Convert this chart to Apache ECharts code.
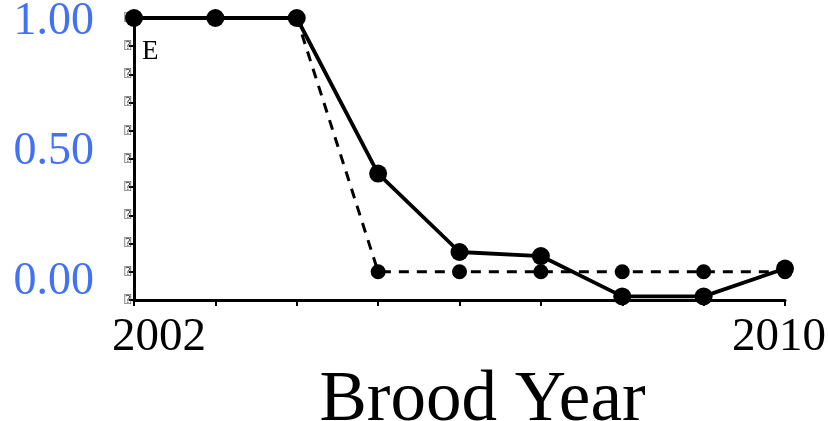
<!DOCTYPE html>
<html>
<head>
<meta charset="utf-8">
<script src="https://cdn.jsdelivr.net/npm/echarts@6/dist/echarts.min.js"></script>
<style>
  html, body { margin: 0; padding: 0; background: #fff; }
  #chart { width: 828px; height: 421px; }
</style>
</head>
<body>
<div id="chart"></div>
<script>
// Brood years on the x axis
const years = [2002, 2003, 2004, 2005, 2006, 2007, 2008, 2009, 2010];
// Observed proportion (solid line)
const observed = [1.0, 1.0, 1.0, 0.387, 0.078, 0.062, -0.097, -0.097, 0.013];
// Expected proportion (dashed line)
const expected = [1.0, 1.0, 1.0, 0.0, 0.0, 0.0, 0.0, 0.0, 0.0];
// Labelled values on the left and bottom
const yLabelValues = [0, 0.5, 1];
const xLabelValues = [2002, 2010];
const panelLetter = 'E';
const xTitle = 'Brood Year';

const serif = 'Liberation Serif';
const chart = echarts.init(document.getElementById('chart'), null, { renderer: 'canvas' });

const pairs = arr => years.map((y, i) => [y, arr[i]]);

chart.setOption({
  backgroundColor: '#ffffff',
  animation: false,
  title: {
    text: panelLetter,
    left: 142,
    top: 38,
    padding: 0,
    textStyle: { fontFamily: serif, fontSize: 27, fontWeight: 'normal', color: '#000' }
  },
  grid: { left: 134, right: 43, top: 18, bottom: 121, outerBoundsMode: 'none', containLabel: false },
  xAxis: [
    {
      type: 'value', min: 2002, max: 2010, interval: 1,
      axisLine: { show: true, onZero: false, lineStyle: { color: '#000', width: 3 } },
      axisTick: { show: true, inside: false, length: 6, lineStyle: { color: '#000', width: 2 } },
      axisLabel: { show: false },
      splitLine: { show: false }
    },
    {
      type: 'value', min: 2001.677, max: 2010.077,
      position: 'bottom',
      axisLine: { show: false, onZero: false },
      axisTick: { show: false },
      splitLine: { show: false },
      axisLabel: {
        customValues: xLabelValues,
        formatter: v => String(Math.round(v)),
        fontFamily: serif, fontSize: 47, color: '#000', margin: 14
      },
      name: xTitle,
      nameLocation: 'middle',
      nameGap: 51,
      nameTextStyle: { fontFamily: serif, fontSize: 71, color: '#000', padding: [0, 0, 0, 46] }
    }
  ],
  yAxis: [
    {
      type: 'value', min: -1 / 9, max: 1, interval: 1 / 9,
      axisLine: { show: true, onZero: false, lineStyle: { color: '#000', width: 3 } },
      axisTick: { show: true, inside: false, length: 5, lineStyle: { color: '#000', width: 2 } },
      axisLabel: {
        formatter: () => '\u2370',
        fontFamily: 'DejaVu Sans Mono', fontSize: 11, color: '#444', margin: 3
      },
      splitLine: { show: false }
    },
    {
      type: 'value', min: -0.06923, max: 1.01538,
      position: 'left',
      axisLine: { show: false, onZero: false },
      axisTick: { show: false },
      splitLine: { show: false },
      axisLabel: {
        customValues: yLabelValues,
        formatter: v => v.toFixed(2),
        fontFamily: serif, fontSize: 46, color: '#4171f5', margin: 40
      }
    }
  ],
  series: [
    {
      name: 'Expected', type: 'line', xAxisIndex: 0, yAxisIndex: 0,
      data: pairs(expected),
      symbol: 'circle', symbolSize: 15,
      itemStyle: { color: '#000' },
      lineStyle: { color: '#000', width: 3, type: [10, 8] },
      z: 2
    },
    {
      name: 'Observed', type: 'line', xAxisIndex: 0, yAxisIndex: 0,
      data: pairs(observed),
      symbol: 'circle', symbolSize: 18,
      itemStyle: { color: '#000' },
      lineStyle: { color: '#000', width: 3.8 },
      z: 3
    }
  ]
});
</script>
</body>
</html>
